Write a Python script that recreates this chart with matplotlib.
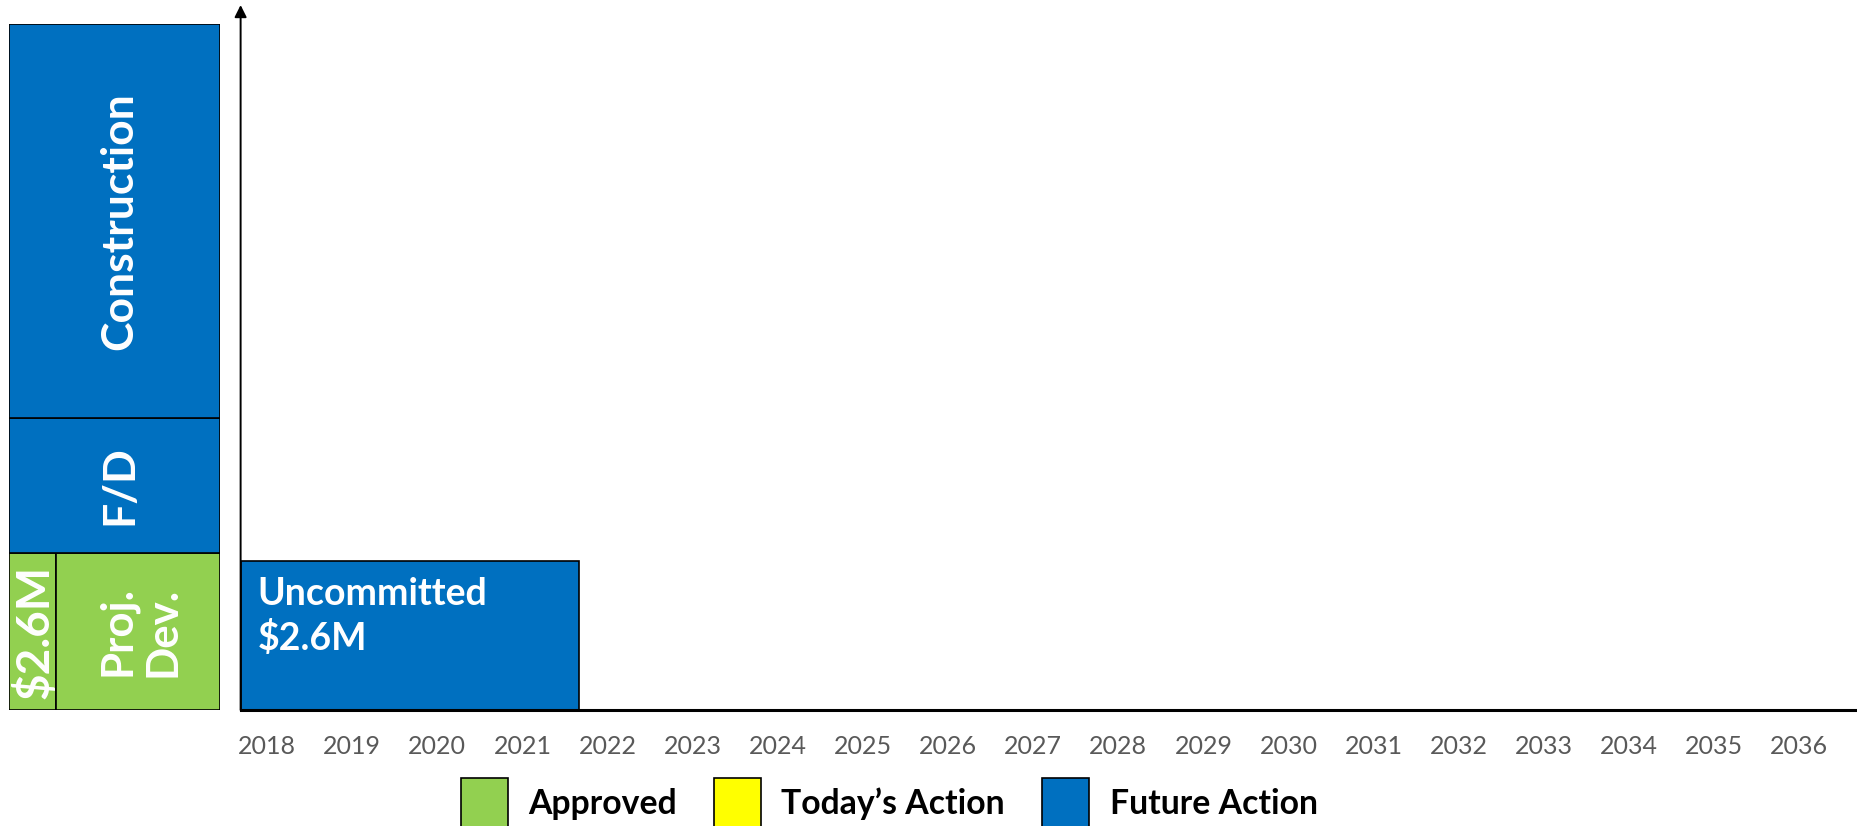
import matplotlib
matplotlib.use('Agg')
import matplotlib.pyplot as plt
from matplotlib.patches import Patch

plt.rcParams['font.family'] = ['Lato', 'DejaVu Sans']

# colours used on the slide
green = '#92D050'
yellow = '#FFFF00'
blue = '#0070C0'

# phase bar on the left (share of the project height)
phase_labels = ['Proj.\nDev.', 'F/D', 'Construction']
phase_shares = [0.229, 0.197, 0.574]
phase_colors = [green, blue, blue]
approved_label = '$2.6M'
approved_width = 0.221

# funding timeline
years = list(range(2018, 2037))
funding_label = 'Uncommitted\n$2.6M'
funding_start = 2017.69
funding_end = 2021.66
funding_value = 2.6

legend_labels = ['Approved', 'Today\u2019s Action', 'Future Action']
legend_colors = [green, yellow, blue]

fig = plt.figure(figsize=(18.58, 8.26), dpi=100)

# ---- left phase bar ----
axp = fig.add_axes([0.0051, 0.1404, 0.1133, 0.8305])
axp.set_xlim(0, 1)
axp.set_ylim(0, 1)
axp.axis('off')
bottom = 0
for i, (lab, h, c) in enumerate(zip(phase_labels, phase_shares, phase_colors)):
    if i == 0:
        axp.bar(0, h, width=approved_width, bottom=bottom, align='edge',
                color=c, edgecolor='black', linewidth=1.2)
        axp.text(approved_width / 2 + 0.01, bottom + h / 2, approved_label, rotation=90,
                 ha='center', va='center', color='white', fontsize=33, fontweight='bold')
        axp.bar(approved_width, h, width=1 - approved_width, bottom=bottom, align='edge',
                color=c, edgecolor='black', linewidth=1.2)
        axp.text((1 + approved_width) / 2 + 0.01, bottom + h / 2, lab, rotation=90,
                 ha='center', va='center', color='white', fontsize=31.5, fontweight='bold',
                 linespacing=1.15, multialignment='center')
    else:
        axp.bar(0, h, width=1, bottom=bottom, align='edge',
                color=c, edgecolor='black', linewidth=1.2)
        axp.text(0.52, bottom + h / 2, lab, rotation=90, ha='center', va='center',
                 color='white', fontsize=32, fontweight='bold')
    bottom += h

# ---- timeline ----
ax = fig.add_axes([0.1295, 0.1404, 0.8705, 0.8535])
ax.bar(funding_start, funding_value, width=funding_end - funding_start, align='edge',
       color=blue, edgecolor='black', linewidth=1.2)
ax.text(funding_start + 0.2, funding_value * 0.89, funding_label, ha='left', va='top',
        color='white', fontsize=27, fontweight='bold', linespacing=1.3)
ax.set_xlim(funding_start, funding_start + 19)
ax.set_ylim(0, 12.26)
ax.set_xticks(years)
ax.set_xticklabels([str(y) for y in years], fontsize=18, color='#595959')
ax.tick_params(axis='x', length=0, pad=18)
ax.set_yticks([])
for s in ['top', 'right', 'left']:
    ax.spines[s].set_visible(False)
ax.spines['bottom'].set_linewidth(2.2)
ax.annotate('', xy=(0, 1.0), xycoords='axes fraction', xytext=(0, 0),
            arrowprops=dict(arrowstyle='-|>', color='black', lw=1.4,
                            mutation_scale=18, shrinkA=0, shrinkB=0))

handles = [Patch(facecolor=c, edgecolor='black', linewidth=1.2) for c in legend_colors]
fig.legend(handles, legend_labels, loc='center', bbox_to_anchor=(0.4785, 0.027),
           ncol=3, frameon=False, handlelength=1.4, handleheight=2.0,
           handletextpad=0.6, columnspacing=1.1,
           prop={'size': 24.3, 'weight': 'bold'})

fig.savefig('out.png', dpi=100)
